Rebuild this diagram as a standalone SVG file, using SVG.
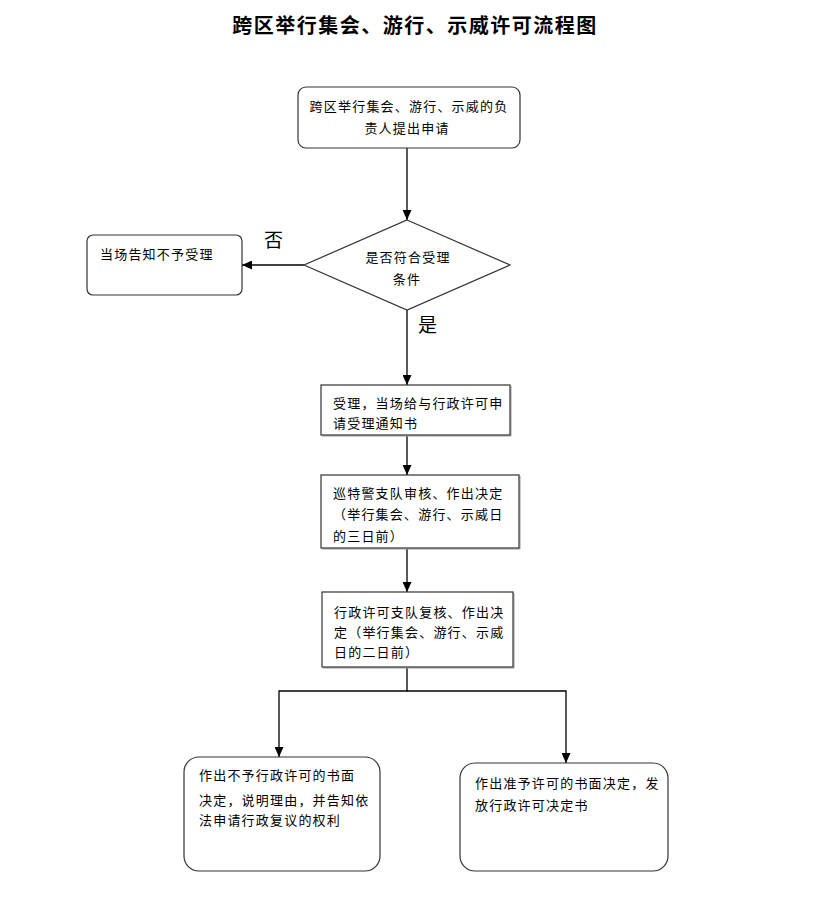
<svg xmlns="http://www.w3.org/2000/svg" width="819" height="899" viewBox="0 0 819 899">
<style>
  text { font-family: "Liberation Sans", "Noto Sans CJK SC", sans-serif; fill: #000; }
  .t { font-size: 13px; letter-spacing: 1.2px; }
  .title { font-size: 20px; font-weight: bold; letter-spacing: 1.5px; }
  .lbl { font-size: 19px; }
  .box { fill: #fff; stroke: #333; stroke-width: 1.2; }
  .sh { fill: none; stroke: #999; stroke-width: 1; }
  .c { fill: none; stroke: #000; stroke-width: 1.3; }
</style>
<defs>
  <marker id="ah" markerUnits="userSpaceOnUse" markerWidth="10" markerHeight="9" refX="10" refY="4.5" orient="auto">
    <path d="M0,0 L10,4.5 L0,9 z" fill="#000"/>
  </marker>
</defs>
<rect width="819" height="899" fill="#fff"/>
<text class="title" x="415" y="33" text-anchor="middle">跨区举行集会、游行、示威许可流程图</text>

<g id="connectors">
  <line class="c" x1="407" y1="148" x2="407" y2="220" marker-end="url(#ah)"/>
  <line class="c" x1="304" y1="265" x2="242" y2="265" marker-end="url(#ah)"/>
  <line class="c" x1="407" y1="310" x2="407" y2="385" marker-end="url(#ah)"/>
  <line class="c" x1="407" y1="436" x2="407" y2="475" marker-end="url(#ah)"/>
  <line class="c" x1="407" y1="549" x2="407" y2="592" marker-end="url(#ah)"/>
  <polyline class="c" points="407,668 407,691 279,691 279,757" marker-end="url(#ah)"/>
  <polyline class="c" points="407,691 566,691 566,763" marker-end="url(#ah)"/>
  <text class="lbl" x="264" y="247">否</text>
  <text class="lbl" x="418" y="332">是</text>
</g>

<g id="n1">
  <rect class="box" x="298" y="87" width="222" height="61" rx="8"/>
  <text class="t" x="409" y="111" text-anchor="middle">跨区举行集会、游行、示威的负</text>
  <text class="t" x="407" y="133" text-anchor="middle">责人提出申请</text>
</g>

<g id="n2">
  <polygon class="box" points="407,220 510,265 407,310 304,265"/>
  <text class="t" x="408" y="262" text-anchor="middle">是否符合受理</text>
  <text class="t" x="407" y="284" text-anchor="middle">条件</text>
</g>

<g id="n3">
  <rect class="box" x="87" y="235" width="155" height="60" rx="6"/>
  <text class="t" x="100" y="259">当场告知不予受理</text>
</g>

<g id="n4">
  <line class="sh" x1="511" y1="386" x2="511" y2="436"/>
  <line class="sh" x1="322" y1="436" x2="511" y2="436"/>
  <rect class="box" x="321" y="385" width="189" height="50"/>
  <text class="t" x="333" y="408">受理，当场给与行政许可申</text>
  <text class="t" x="333" y="428">请受理通知书</text>
</g>

<g id="n5">
  <line class="sh" x1="520" y1="476" x2="520" y2="549"/>
  <line class="sh" x1="322" y1="549" x2="520" y2="549"/>
  <rect class="box" x="321" y="475" width="198" height="73"/>
  <text class="t" x="333" y="498">巡特警支队审核、作出决定</text>
  <text class="t" x="333" y="519">（举行集会、游行、示威日</text>
  <text class="t" x="333" y="541">的三日前）</text>
</g>

<g id="n6">
  <line class="sh" x1="514" y1="593" x2="514" y2="668"/>
  <line class="sh" x1="323" y1="668" x2="514" y2="668"/>
  <rect class="box" x="322" y="592" width="191" height="75"/>
  <text class="t" x="334" y="617">行政许可支队复核、作出决</text>
  <text class="t" x="334" y="637">定（举行集会、游行、示威</text>
  <text class="t" x="334" y="657">日的二日前）</text>
</g>

<g id="n7">
  <rect class="box" x="184" y="757" width="196" height="114" rx="15"/>
  <text class="t" x="199" y="780">作出不予行政许可的书面</text>
  <text class="t" x="199" y="805">决定，说明理由，并告知依</text>
  <text class="t" x="199" y="825">法申请行政复议的权利</text>
</g>

<g id="n8">
  <rect class="box" x="460" y="763" width="208" height="108" rx="15"/>
  <text class="t" x="475" y="788">作出准予许可的书面决定，发</text>
  <text class="t" x="475" y="810">放行政许可决定书</text>
</g>
</svg>
